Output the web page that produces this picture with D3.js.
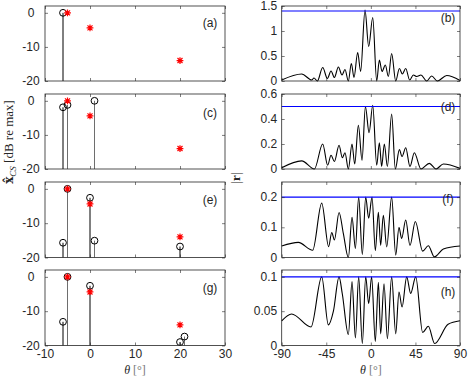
<!DOCTYPE html>
<html><head><meta charset="utf-8">
<script src="https://cdn.jsdelivr.net/npm/d3@7"></script>
<style>body{margin:0;background:#fff}svg{display:block}</style>
</head><body><svg id="c" width="469" height="377"></svg>
<script>
// ---------------- DATA ----------------
const trueTheta = [-5, 0, 20];
const trueAmp = [0, -4.4, -14];

const estTheta_a = [-6];
const estAmp_a = [0];
const estKind_a = [0];

const estTheta_c = [-6, -5, 1];
const estAmp_c = [-1.9, -1.2, 0];
const estKind_c = [0, 1, 1];

const estTheta_e = [-6, -5, 0, 1, 20];
const estAmp_e = [-15.7, 0, -2.6, -15.1, -16.8];
const estKind_e = [0, 1, 0, 1, 0];

const estTheta_g = [-6, -5, 0, 20, 21];
const estAmp_g = [-13.1, 0, -2.6, -19, -17.4];
const estKind_g = [0, 1, 0, 0, 1];

const leftLabels = ["(a)", "(c)", "(e)", "(g)"];
const rightLabels = ["(b)", "(d)", "(f)", "(h)"];
const leftXTicks = [-10, 0, 10, 20, 30];
const leftYTicks = [-20, -10, 0];
const rightXTicks = [-90, -45, 0, 45, 90];
const rightYTicks_b = [0, 0.5, 1, 1.5];
const rightYTicks_d = [0, 0.2, 0.4, 0.6];
const rightYTicks_f = [0, 0.1, 0.2];
const rightYTicks_h = [0, 0.05, 0.1];
const rightYMax = [1.5, 0.6, 0.25, 0.11];
const thresholds = [1.4, 0.5, 0.2, 0.1];

const theta_b = [-90,-69.8,-59.7,-57.4,-54,-48.6,-43.9,-40.2,-36.8,-32.8,-29.1,-26.1,-22.7,-19.7,-17,-13.3,-10.3,-5.9,-2.2,1.9,5.9,8.6,11.3,14.6,17.7,21,25.1,28.8,31.8,35.2,39.2,42.9,46.3,50.6,56.4,61.4,67.1,76.6,90];
const r_b = [0.02,0.14,0.02,0.06,0,0.27,0.05,0.2,0.07,0.28,0.12,0.23,0,0.35,0.07,0.57,0.19,1.42,0.69,1.27,0,0.42,0.19,0.32,0.09,0.55,0,0.25,0.14,0.25,0.02,0.12,0.09,0.12,0,0.1,0,0.11,0.01];

const theta_d = [-90,-69.8,-57,-48.6,-43.6,-40.2,-36.8,-32.1,-28.8,-26.1,-22.7,-19,-16.3,-12.6,-8.9,-5.5,-1.8,1.9,5.9,8.6,10.9,13.6,16.7,21,24.7,28.8,31.5,35.2,39.5,43.9,50.6,59,65.8,73.2,90];
const r_d = [0.01,0.065,0,0.2,0.03,0.11,0.06,0.19,0.09,0.13,0,0.2,0.04,0.35,0.07,0.5,0.29,0.51,0.03,0.21,0.02,0.2,0.02,0.44,0,0.155,0.1,0.17,0.02,0.13,0,0.045,0,0.04,0.005];

const theta_f = [-90,-73.2,-58.7,-49.6,-42.6,-39.5,-36.8,-32.1,-27.8,-22.7,-19,-15.6,-12.3,-8.6,-5.2,-2.2,1.2,4.5,7.6,9.9,12.6,16,21,25.1,28.4,31.1,35.2,39.5,44.9,52.3,58,64.1,73.2,90];
const r_f = [0.038,0.05,0.024,0.18,0.036,0.083,0.058,0.149,0.08,0,0.133,0.03,0.2,0.01,0.2,0.13,0.2,0.023,0.15,0.04,0.14,0.035,0.2,0.008,0.1,0.063,0.124,0.04,0.119,0.021,0.039,0.002,0.028,0.038];

const theta_h = [-90,-80,-60.4,-49.6,-42.9,-37.8,-32.1,-28.8,-22.7,-19,-15.6,-12.3,-8.6,-5.2,-2.2,0.8,4.5,7.6,9.9,13.3,16.7,21,25.1,28.4,31.5,36.2,40.2,45.3,52.3,58,64.4,78,90];
const r_h = [0.036,0.046,0.027,0.1,0.03,0.05,0.1,0.075,0.016,0.093,0.011,0.1,0.003,0.1,0.061,0.1,0.006,0.092,0.017,0.09,0.01,0.1,0.017,0.078,0.056,0.1,0.076,0.1,0.019,0.028,0.003,0.031,0.036];

// ---------------- LAYOUT ----------------
const svg = d3.select("#c");
const rowTop = [6, 94, 182, 270];
const rowH = [75, 75, 75.5, 75.5];
const AX = "#262626";
const FONT = "'Liberation Sans', Arial, sans-serif";
const xL = d3.scaleLinear([-10, 30], [45, 225]);
const xR = d3.scaleLinear([-90, 90], [281.7, 460]);
const kindColor = d3.scaleOrdinal([0, 1], ["#000000", "#6e6e6e"]);
const leftLabelDy = [17, 19, 18, 18];
const rightLabelDy = [12, 13, 17, 22];

const est = [
  [estTheta_a, estAmp_a, estKind_a],
  [estTheta_c, estAmp_c, estKind_c],
  [estTheta_e, estAmp_e, estKind_e],
  [estTheta_g, estAmp_g, estKind_g]
];
const curves = [[theta_b, r_b], [theta_d, r_d], [theta_f, r_f], [theta_h, r_h]];
const rTicks = [rightYTicks_b, rightYTicks_d, rightYTicks_f, rightYTicks_h];

function styleAxis(g) {
  g.select(".domain").remove();
  g.selectAll("line").attr("stroke", AX).attr("stroke-width", 0.6);
  g.selectAll("text").attr("fill", AX).attr("font-family", FONT).attr("font-size", 12);
}

function frame(x, y, ticksX, ticksY, showX, leftStyle) {
  const [x0, x1] = x.range();
  const [yb, yt] = y.range();
  const g = svg.append("g");
  g.append("g").attr("transform", `translate(0,${yb})`)
    .call(d3.axisBottom(x).tickValues(ticksX).tickSizeInner(-3).tickSizeOuter(0).tickPadding(4)
      .tickFormat(showX ? (d => String(d)) : () => ""))
    .call(styleAxis);
  g.append("g").attr("transform", `translate(0,${yt})`)
    .call(d3.axisTop(x).tickValues(ticksX).tickSizeInner(-3).tickSizeOuter(0).tickFormat(() => ""))
    .call(styleAxis);
  const ya = g.append("g").attr("transform", `translate(${x0},0)`)
    .call(d3.axisLeft(y).tickValues(ticksY).tickSizeInner(-3).tickSizeOuter(0).tickPadding(4.5)
      .tickFormat(d => String(d)))
    .call(styleAxis);
  ya.selectAll("text").attr("dy", "0.3em");
  if (leftStyle) ya.selectAll("text").attr("text-anchor", "middle").attr("x", -14);
  g.append("g").attr("transform", `translate(${x1},0)`)
    .call(d3.axisRight(y).tickValues(ticksY).tickSizeInner(-3).tickSizeOuter(0).tickFormat(() => ""))
    .call(styleAxis);
  g.append("rect").attr("x", x0).attr("y", yt).attr("width", x1 - x0).attr("height", yb - yt)
    .attr("fill", "none").attr("stroke", AX).attr("stroke-width", 0.8);
  return g;
}

const starPath = (s, d) => `M${-s},0H${s}M0,${-s}V${s}M${-d},${-d}L${d},${d}M${-d},${d}L${d},${-d}`;

// ---------------- LEFT PANELS ----------------
est.forEach(([th, am, kd], i) => {
  const top = rowTop[i];
  const y = d3.scaleLinear([-20, 2], [top + rowH[i], top]);
  const g = svg.append("g");
  const idx = d3.range(th.length);
  g.selectAll("line.stem").data(idx).join("line").attr("class", "stem")
    .attr("x1", j => xL(th[j])).attr("x2", j => xL(th[j]))
    .attr("y1", y(-20)).attr("y2", j => y(am[j]))
    .attr("stroke", j => kindColor(kd[j])).attr("stroke-width", 1);
  g.selectAll("circle").data(idx).join("circle")
    .attr("cx", j => xL(th[j])).attr("cy", j => y(am[j])).attr("r", 3.4)
    .attr("fill", "none").attr("stroke", "#000").attr("stroke-width", 1);
  g.selectAll("path.star").data(d3.range(trueTheta.length)).join("path").attr("class", "star")
    .attr("transform", j => `translate(${xL(trueTheta[j])},${y(trueAmp[j])})`)
    .attr("d", starPath(3.4, 2.5)).attr("stroke", "#ff0000").attr("stroke-width", 1.2).attr("fill", "none");
  frame(xL, y, leftXTicks, leftYTicks, i === 3, true);
  svg.append("text").attr("x", 210).attr("y", top + leftLabelDy[i]).attr("dy", "0.35em")
    .attr("text-anchor", "middle").attr("font-family", FONT).attr("font-size", 12).attr("fill", AX)
    .text(leftLabels[i]);
});

// ---------------- RIGHT PANELS ----------------
curves.forEach(([th, rv], i) => {
  const top = rowTop[i];
  const y = d3.scaleLinear([0, rightYMax[i]], [top + rowH[i], top]);
  const g = svg.append("g");
  const line = d3.line().x(j => xR(th[j])).y(j => y(rv[j])).curve(d3.curveMonotoneX);
  g.append("path").attr("d", line(d3.range(th.length)))
    .attr("fill", "none").attr("stroke", "#000").attr("stroke-width", 1.1);
  g.append("line").attr("x1", xR(-90)).attr("x2", xR(90))
    .attr("y1", y(thresholds[i])).attr("y2", y(thresholds[i]))
    .attr("stroke", "#0000ff").attr("stroke-width", 1.1);
  frame(xR, y, rightXTicks, rTicks[i], i === 3, false);
  svg.append("text").attr("x", 448).attr("y", top + rightLabelDy[i]).attr("dy", "0.35em")
    .attr("text-anchor", "middle").attr("font-family", FONT).attr("font-size", 12).attr("fill", AX)
    .text(rightLabels[i]);
});

// ---------------- AXIS LABELS ----------------
const SERIF = "'Liberation Serif', 'DejaVu Serif', serif";
const yl = svg.append("text").attr("transform", "translate(13,142) rotate(-90)")
  .attr("text-anchor", "middle").attr("font-family", SERIF).attr("font-size", 13).attr("fill", AX);
yl.append("tspan").attr("font-weight", "bold").attr("font-family", "'DejaVu Serif', serif").attr("font-size", 12).text("x\u0302");
yl.append("tspan").attr("font-style", "italic").attr("font-size", 9).attr("dy", 3).text("CS");
yl.append("tspan").attr("dy", -3).text(" [dB re max]");

const yr = svg.append("text").attr("transform", "translate(240,178) rotate(-90)")
  .attr("text-anchor", "middle").attr("font-family", SERIF).attr("font-size", 13).attr("fill", AX);
yr.append("tspan").text("|");
yr.append("tspan").attr("font-weight", "bold").text("r");
yr.append("tspan").text("|");

[xL, xR].forEach(sc => {
  const t = svg.append("text").attr("x", (sc.range()[0] + sc.range()[1]) / 2).attr("y", 373.5)
    .attr("text-anchor", "middle").attr("font-family", SERIF).attr("font-size", 12).attr("fill", AX);
  t.append("tspan").attr("font-style", "italic").text("\u03b8");
  t.append("tspan").attr("fill", "#777").text(" [\u00b0]");
});
</script></body></html>
